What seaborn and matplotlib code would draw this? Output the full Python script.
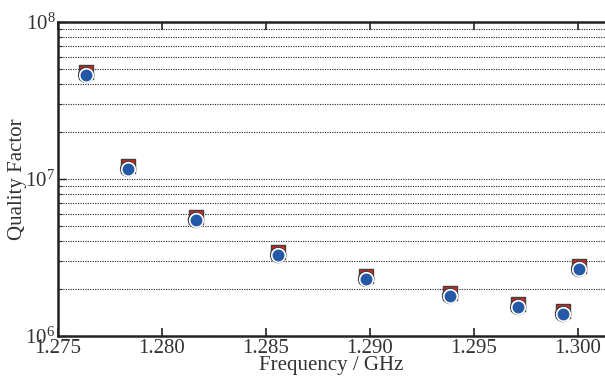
import matplotlib
matplotlib.use("Agg")
import matplotlib.pyplot as plt
import seaborn as sns
import pandas as pd
import numpy as np
from matplotlib.ticker import LogLocator, NullFormatter, FixedLocator

freq_ghz = [1.27635, 1.27837, 1.28163, 1.28558, 1.28981, 1.29385, 1.29712, 1.29928, 1.30005]
q_circle = [4.6e7, 1.16e7, 5.48e6, 3.28e6, 2.31e6, 1.80e6, 1.53e6, 1.38e6, 2.67e6]
q_square = [4.78e7, 1.21e7, 5.70e6, 3.41e6, 2.40e6, 1.87e6, 1.59e6, 1.44e6, 2.78e6]
x_ticks = [1.275, 1.280, 1.285, 1.290, 1.295, 1.300]
x_tick_labels = ["1.275", "1.280", "1.285", "1.290", "1.295", "1.300"]

sns.set_theme(style="white")
plt.rcParams['font.family'] = ['Liberation Serif', 'DejaVu Serif']
plt.rcParams['mathtext.fontset'] = 'stix'

df_sq = pd.DataFrame({"f": freq_ghz, "q": q_square})
df_ci = pd.DataFrame({"f": freq_ghz, "q": q_circle})

fig = plt.figure(figsize=(6.05, 3.78), dpi=100)
ax = fig.add_axes([58/605, 42/378, 1 - 58/605, (336-22)/378])

sns.scatterplot(data=df_sq, x="f", y="q", ax=ax, marker="s", s=105,
                color="#e0211c", edgecolor="#404040", linewidth=1.0, zorder=3)
# dark ring around circle
ax.scatter(freq_ghz, q_circle, s=140, facecolor="#404040", edgecolor="none", zorder=3.5)
sns.scatterplot(data=df_ci, x="f", y="q", ax=ax, marker="o", s=95,
                color="#2459a8", edgecolor="white", linewidth=1.2, zorder=4)

ax.set_yscale("log")
ax.set_ylim(1e6, 1e8)
ax.set_xlim(1.275, 1.275 + 547/104*0.005)
ax.xaxis.set_major_locator(FixedLocator(x_ticks))
ax.set_xticklabels(x_tick_labels)
ax.yaxis.set_major_locator(LogLocator(base=10, numticks=5))
ax.yaxis.set_minor_locator(LogLocator(base=10, subs=np.arange(2, 10), numticks=20))
ax.yaxis.set_minor_formatter(NullFormatter())

ax.grid(True, which="both", axis="y", linestyle=(0, (1, 1.2)), color="#222222", linewidth=0.8)
ax.grid(False, axis="x")

for side in ["left", "bottom", "top"]:
    ax.spines[side].set_visible(True)
    ax.spines[side].set_color("#222222")
    ax.spines[side].set_linewidth(1.8)
ax.spines["right"].set_visible(False)

ax.tick_params(axis="x", which="major", direction="in", length=6, width=1.2, top=True, bottom=True,
               labelsize=15, pad=2, colors="#222222")
ax.tick_params(axis="y", which="major", direction="in", length=6, width=1.0, left=True,
               labelsize=15, pad=2, colors="#222222")
ax.tick_params(axis="y", which="minor", direction="in", length=3, width=0.8, left=True)
for lbl in ax.get_xticklabels() + ax.get_yticklabels():
    lbl.set_color("#333333")

ax.set_xlabel("Frequency / GHz", fontsize=15, labelpad=-1, color="#333333")
ax.set_ylabel("Quality Factor", fontsize=15, labelpad=-1, color="#333333")

fig.savefig("out.png", dpi=100)
